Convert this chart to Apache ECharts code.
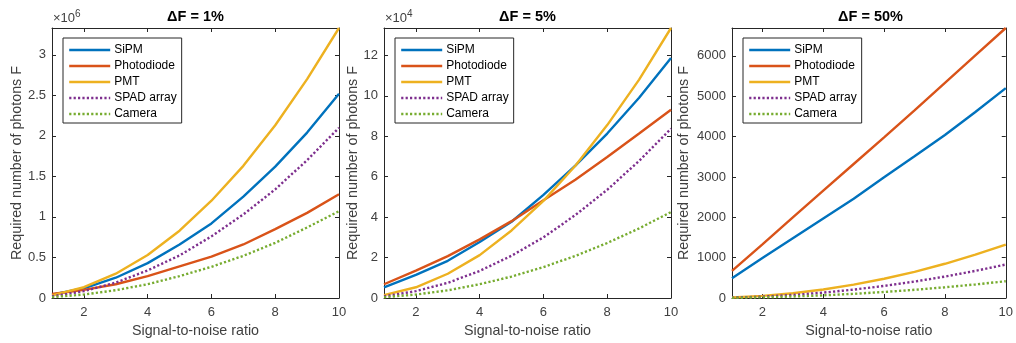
<!DOCTYPE html>
<html>
<head>
<meta charset="utf-8">
<script src="https://cdn.jsdelivr.net/npm/echarts@6/dist/echarts.min.js"></script>
<style>
  html, body {margin: 0; padding: 0; background: #fff;}
  #chart {width: 1016px; height: 343px;}
</style>
</head>
<body>
<div id="chart"></div>
<script>
// signal-to-noise ratio (x) for every panel
const snr = [1, 2, 3, 4, 5, 6, 7, 8, 9, 10];

// dF = 1%  (values x 10^6)
const sipm1       = [0.04, 0.12, 0.25, 0.43, 0.66, 0.92, 1.25, 1.62, 2.04, 2.52];
const photodiode1 = [0.05, 0.10, 0.17, 0.27, 0.39, 0.51, 0.66, 0.85, 1.05, 1.28];
const pmt1        = [0.033, 0.133, 0.30, 0.53, 0.83, 1.20, 1.63, 2.13, 2.70, 3.33];
const spad1       = [0.021, 0.084, 0.19, 0.34, 0.525, 0.76, 1.03, 1.34, 1.70, 2.10];
const camera1     = [0.011, 0.043, 0.096, 0.17, 0.27, 0.385, 0.52, 0.68, 0.87, 1.07];

// dF = 5%  (values x 10^4)
const sipm2       = [0.53, 1.14, 1.84, 2.77, 3.77, 5.10, 6.55, 8.13, 9.90, 11.87];
const photodiode2 = [0.68, 1.35, 2.07, 2.90, 3.80, 4.83, 5.85, 6.97, 8.13, 9.31];
const pmt2        = [0.14, 0.53, 1.20, 2.12, 3.34, 4.80, 6.54, 8.55, 10.80, 13.35];
const spad2       = [0.08, 0.34, 0.75, 1.34, 2.09, 3.00, 4.10, 5.35, 6.78, 8.37];
const camera2     = [0.04, 0.17, 0.38, 0.68, 1.06, 1.53, 2.08, 2.72, 3.44, 4.25];

// dF = 50%
const sipm3       = [490, 990, 1480, 1970, 2460, 2990, 3510, 4040, 4610, 5200];
const photodiode3 = [670, 1330, 2000, 2660, 3320, 3980, 4650, 5330, 6010, 6690];
const pmt3        = [13, 53, 119, 212, 331, 477, 649, 848, 1073, 1325];
const spad3       = [8, 33, 75, 133, 208, 299, 407, 531, 672, 830];
const camera3     = [4, 17, 37, 66, 104, 149, 203, 266, 336, 415];

// tick labels
const xTicks  = [2, 4, 6, 8, 10];
const yTicks1 = [0, 0.5, 1, 1.5, 2, 2.5, 3];
const yTicks2 = [0, 2, 4, 6, 8, 10, 12];
const yTicks3 = [0, 1000, 2000, 3000, 4000, 5000, 6000];

const titles = ['\u0394F = 1%', '\u0394F = 5%', '\u0394F = 50%'];
const names = ['SiPM', 'Photodiode', 'PMT', 'SPAD array', 'Camera'];
const colors = ['#0072BD', '#D95319', '#EDB120', '#7E2F8E', '#77AC30'];
const dotted = [false, false, false, true, true];

const panels = [
  {series: [sipm1, photodiode1, pmt1, spad1, camera1], yTicks: yTicks1, exp: '6'},
  {series: [sipm2, photodiode2, pmt2, spad2, camera2], yTicks: yTicks2, exp: '4'},
  {series: [sipm3, photodiode3, pmt3, spad3, camera3], yTicks: yTicks3, exp: null},
];

// plot boxes in px: left, right edge (x), top, bottom edge (y)
const boxes = [
  {l: 52, r: 339, t: 28, b: 298, nameGap: 28},
  {l: 384, r: 671, t: 28, b: 298, nameGap: 24},
  {l: 732, r: 1009, t: 28, b: 298, nameGap: 41},
];

const axisColor = '#262626';
const textColor = '#404040';
const font = 'Liberation Sans, Arial, Helvetica, sans-serif';
const lw = 2.4;

const chart = echarts.init(document.getElementById('chart'));

const grid = [], xAxis = [], yAxis = [], series = [], title = [], legend = [], graphic = [];

panels.forEach((p, i) => {
  const b = boxes[i];
  const yMax = Math.max(...p.series.map(s => Math.max(...s)));
  grid.push({left: b.l, width: b.r - b.l, top: b.t, height: b.b - b.t});

  const tickCommon = {show: true, inside: true, length: 4, lineStyle: {color: axisColor}};
  xAxis.push({
    type: 'value', gridIndex: i, min: 1, max: 10, position: 'bottom',
    axisLine: {show: true, lineStyle: {color: axisColor, width: 1}},
    axisTick: {...tickCommon, customValues: xTicks},
    axisLabel: {customValues: xTicks, color: textColor, fontSize: 13, fontFamily: font, margin: 8},
    splitLine: {show: false},
    name: 'Signal-to-noise ratio', nameLocation: 'middle', nameGap: 24,
    nameTextStyle: {color: textColor, fontSize: 14.3, fontFamily: font}
  });
  xAxis.push({
    type: 'value', gridIndex: i, min: 1, max: 10, position: 'top',
    axisLine: {show: true, onZero: false, lineStyle: {color: axisColor, width: 1}},
    axisTick: {...tickCommon, customValues: xTicks},
    axisLabel: {show: false},
    splitLine: {show: false}
  });
  yAxis.push({
    type: 'value', gridIndex: i, min: 0, max: yMax, position: 'left',
    axisLine: {show: true, lineStyle: {color: axisColor, width: 1}},
    axisTick: {...tickCommon, customValues: p.yTicks},
    axisLabel: {customValues: p.yTicks, color: textColor, fontSize: 13, fontFamily: font, margin: 6,
      formatter: v => String(v)},
    splitLine: {show: false},
    name: 'Required number of photons F', nameLocation: 'middle', nameGap: b.nameGap,
    nameTextStyle: {color: textColor, fontSize: 14.3, fontFamily: font}
  });
  yAxis.push({
    type: 'value', gridIndex: i, min: 0, max: yMax, position: 'right',
    axisLine: {show: true, onZero: false, lineStyle: {color: axisColor, width: 1}},
    axisTick: {...tickCommon, customValues: p.yTicks},
    axisLabel: {show: false},
    splitLine: {show: false}
  });

  p.series.forEach((vals, k) => {
    series.push({
      name: names[k], type: 'line', xAxisIndex: i * 2, yAxisIndex: i * 2,
      data: vals.map((v, j) => [snr[j], v]),
      symbol: 'none', silent: true, animation: false,
      lineStyle: {color: colors[k], width: lw, type: dotted[k] ? [2.2, 2.2] : 'solid', cap: 'butt'},
      itemStyle: {color: colors[k]}
    });
  });

  title.push({
    text: titles[i], left: (b.l + b.r) / 2, top: 9, textAlign: 'center', padding: 0,
    textStyle: {color: '#000', fontSize: 14.5, fontWeight: 'bold', fontFamily: font}
  });

  legend.push({
    data: names, orient: 'vertical', left: b.l + 11, top: 38,
    itemWidth: 41, itemHeight: 14, itemGap: 0,
    padding: [4, 5, 1, 5],
    backgroundColor: '#fff', borderColor: axisColor, borderWidth: 1, borderRadius: 0,
    selectedMode: false,
    itemStyle: {opacity: 0},
    lineStyle: {width: lw},
    textStyle: {color: '#000', fontSize: 12, fontFamily: font, lineHeight: 16, padding: [0, 0, 0, -1]}
  });

  if (p.exp) {
    graphic.push({
      type: 'text', left: b.l + 1, top: 9,
      style: {
        text: '{a|\u00d710}{b|' + p.exp + '}',
        rich: {
          a: {fontSize: 13, fontFamily: font, fill: textColor, verticalAlign: 'bottom', lineHeight: 16},
          b: {fontSize: 10, fontFamily: font, fill: textColor, verticalAlign: 'top', lineHeight: 10, padding: [0, 0, 6, 0]}
        }
      }
    });
  }
});

chart.setOption({
  animation: false,
  backgroundColor: '#fff',
  title, grid, xAxis, yAxis, series, legend, graphic
});
</script>
</body>
</html>
